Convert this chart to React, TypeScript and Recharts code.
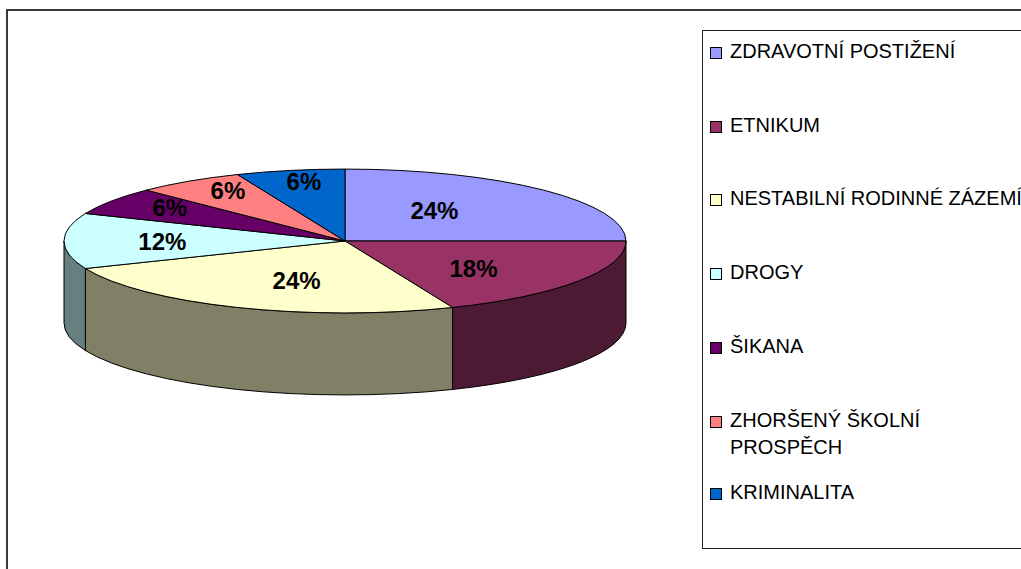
import { Cell, Legend, Pie, PieChart } from "recharts"

const categories = [
  "ZDRAVOTNÍ POSTIŽENÍ",
  "ETNIKUM",
  "NESTABILNÍ RODINNÉ ZÁZEMÍ",
  "DROGY",
  "ŠIKANA",
  "ZHORŠENÝ ŠKOLNÍ PROSPĚCH",
  "KRIMINALITA",
]
const values = [24, 18, 24, 12, 6, 6, 6]
const colors = ["#9999FF", "#993366", "#FFFFCC", "#CCFFFF", "#660066", "#FF8080", "#0066CC"]

const data = categories.map((name, i) => ({ name, value: values[i] }))

// flattening of the pie (ry / rx) and height of the side wall
const TILT = 0.256
const DEPTH = 82
const FONT = "'Liberation Sans', Arial, sans-serif"

const darken = (hex: string) => {
  const n = parseInt(hex.slice(1), 16)
  const c = [(n >> 16) & 255, (n >> 8) & 255, n & 255].map((v) => Math.round(v * 0.5))
  return `rgb(${c[0]},${c[1]},${c[2]})`
}

function Slice3D(props: any) {
  const { cx, cy, outerRadius, startAngle, endAngle, fill } = props
  const rx = outerRadius
  const ry = outerRadius * TILT
  const pt = (a: number, dy = 0) => {
    const r = (a * Math.PI) / 180
    return [cx + rx * Math.cos(r), cy - ry * Math.sin(r) + dy]
  }
  const hi = Math.max(startAngle, endAngle)
  const lo = Math.min(startAngle, endAngle)
  const large = hi - lo > 180 ? 1 : 0
  const [x1, y1] = pt(hi)
  const [x2, y2] = pt(lo)
  const top = `M${cx},${cy} L${x1},${y1} A${rx},${ry} 0 ${large} 1 ${x2},${y2} Z`

  // visible wall = part of the arc on the front half (angles -180..0)
  let side = null
  const a1 = Math.min(hi, 0)
  const a2 = Math.max(lo, -180)
  if (a1 > a2) {
    const [sx1, sy1] = pt(a1)
    const [sx2, sy2] = pt(a2)
    const [bx1, by1] = pt(a1, DEPTH)
    const [bx2, by2] = pt(a2, DEPTH)
    const d = `M${sx1},${sy1} A${rx},${ry} 0 0 1 ${sx2},${sy2} L${bx2},${by2} A${rx},${ry} 0 0 0 ${bx1},${by1} Z`
    side = <path d={d} fill={darken(fill)} stroke="#000" strokeWidth={1} />
  }
  return (
    <g>
      {side}
      <path d={top} fill={fill} stroke="#000" strokeWidth={1} />
    </g>
  )
}

const renderLabel = (props: any) => {
  const { cx, cy, midAngle, outerRadius, value, percent } = props
  const r = (midAngle * Math.PI) / 180
  // small slices get their label pushed further out, like Excel does
  const fx = 0.45 + 1.6 * (0.25 - percent)
  const fy = 0.6 + 1.3 * (0.25 - percent)
  const x = cx + outerRadius * fx * Math.cos(r)
  const y = cy - outerRadius * TILT * fy * Math.sin(r)
  return (
    <text x={x} y={y} textAnchor="middle" dominantBaseline="central" fontFamily={FONT} fontWeight="bold" fontSize={24} fill="#000">
      {`${value}%`}
    </text>
  )
}

const legendTops = [37, 111, 184, 258, 332, 406, 478]

const renderLegend = () => (
  <div style={{ position: "relative", width: "100%", height: "100%", border: "1px solid #222", boxSizing: "border-box", fontFamily: FONT, fontSize: 20, lineHeight: "27px", color: "#000" }}>
    {data.map((entry, i) => (
      <div key={i} style={{ position: "absolute", left: 7, top: legendTops[i] - 30, width: i === 5 ? 250 : 380, display: "flex" }}>
        <span style={{ display: "inline-block", width: 10, height: 10, marginTop: 9, border: "1px solid #000", background: colors[i], flex: "none" }} />
        <span style={{ marginLeft: 8, whiteSpace: i === 5 ? "normal" : "nowrap" }}>{entry.name}</span>
      </div>
    ))}
  </div>
)

export default function App() {
  return (
    <div style={{ position: "fixed", left: 0, top: 0, width: 1021, height: 569, overflow: "hidden", background: "#fff" }}>
      <div style={{ position: "absolute", left: 6, top: 9, width: 1100, height: 700, borderLeft: "2px solid #3a3a3a", borderTop: "2px solid #3a3a3a" }} />
      <PieChart width={1021} height={569} margin={{ top: 0, right: 0, bottom: 0, left: 0 }} style={{ position: "absolute", left: 0, top: 0 }}>
        <Pie
          data={data}
          dataKey="value"
          nameKey="name"
          cx={345}
          cy={241}
          outerRadius={281}
          startAngle={90}
          endAngle={-270}
          stroke="#000"
          shape={Slice3D}
          label={renderLabel}
          labelLine={false}
          isAnimationActive={false}
        >
          {data.map((entry, index) => (
            <Cell key={index} fill={colors[index]} />
          ))}
        </Pie>
        <Legend
          content={renderLegend}
          wrapperStyle={{ left: 702, top: 30, width: 400, height: 519, bottom: "auto", right: "auto" }}
        />
      </PieChart>
    </div>
  )
}
